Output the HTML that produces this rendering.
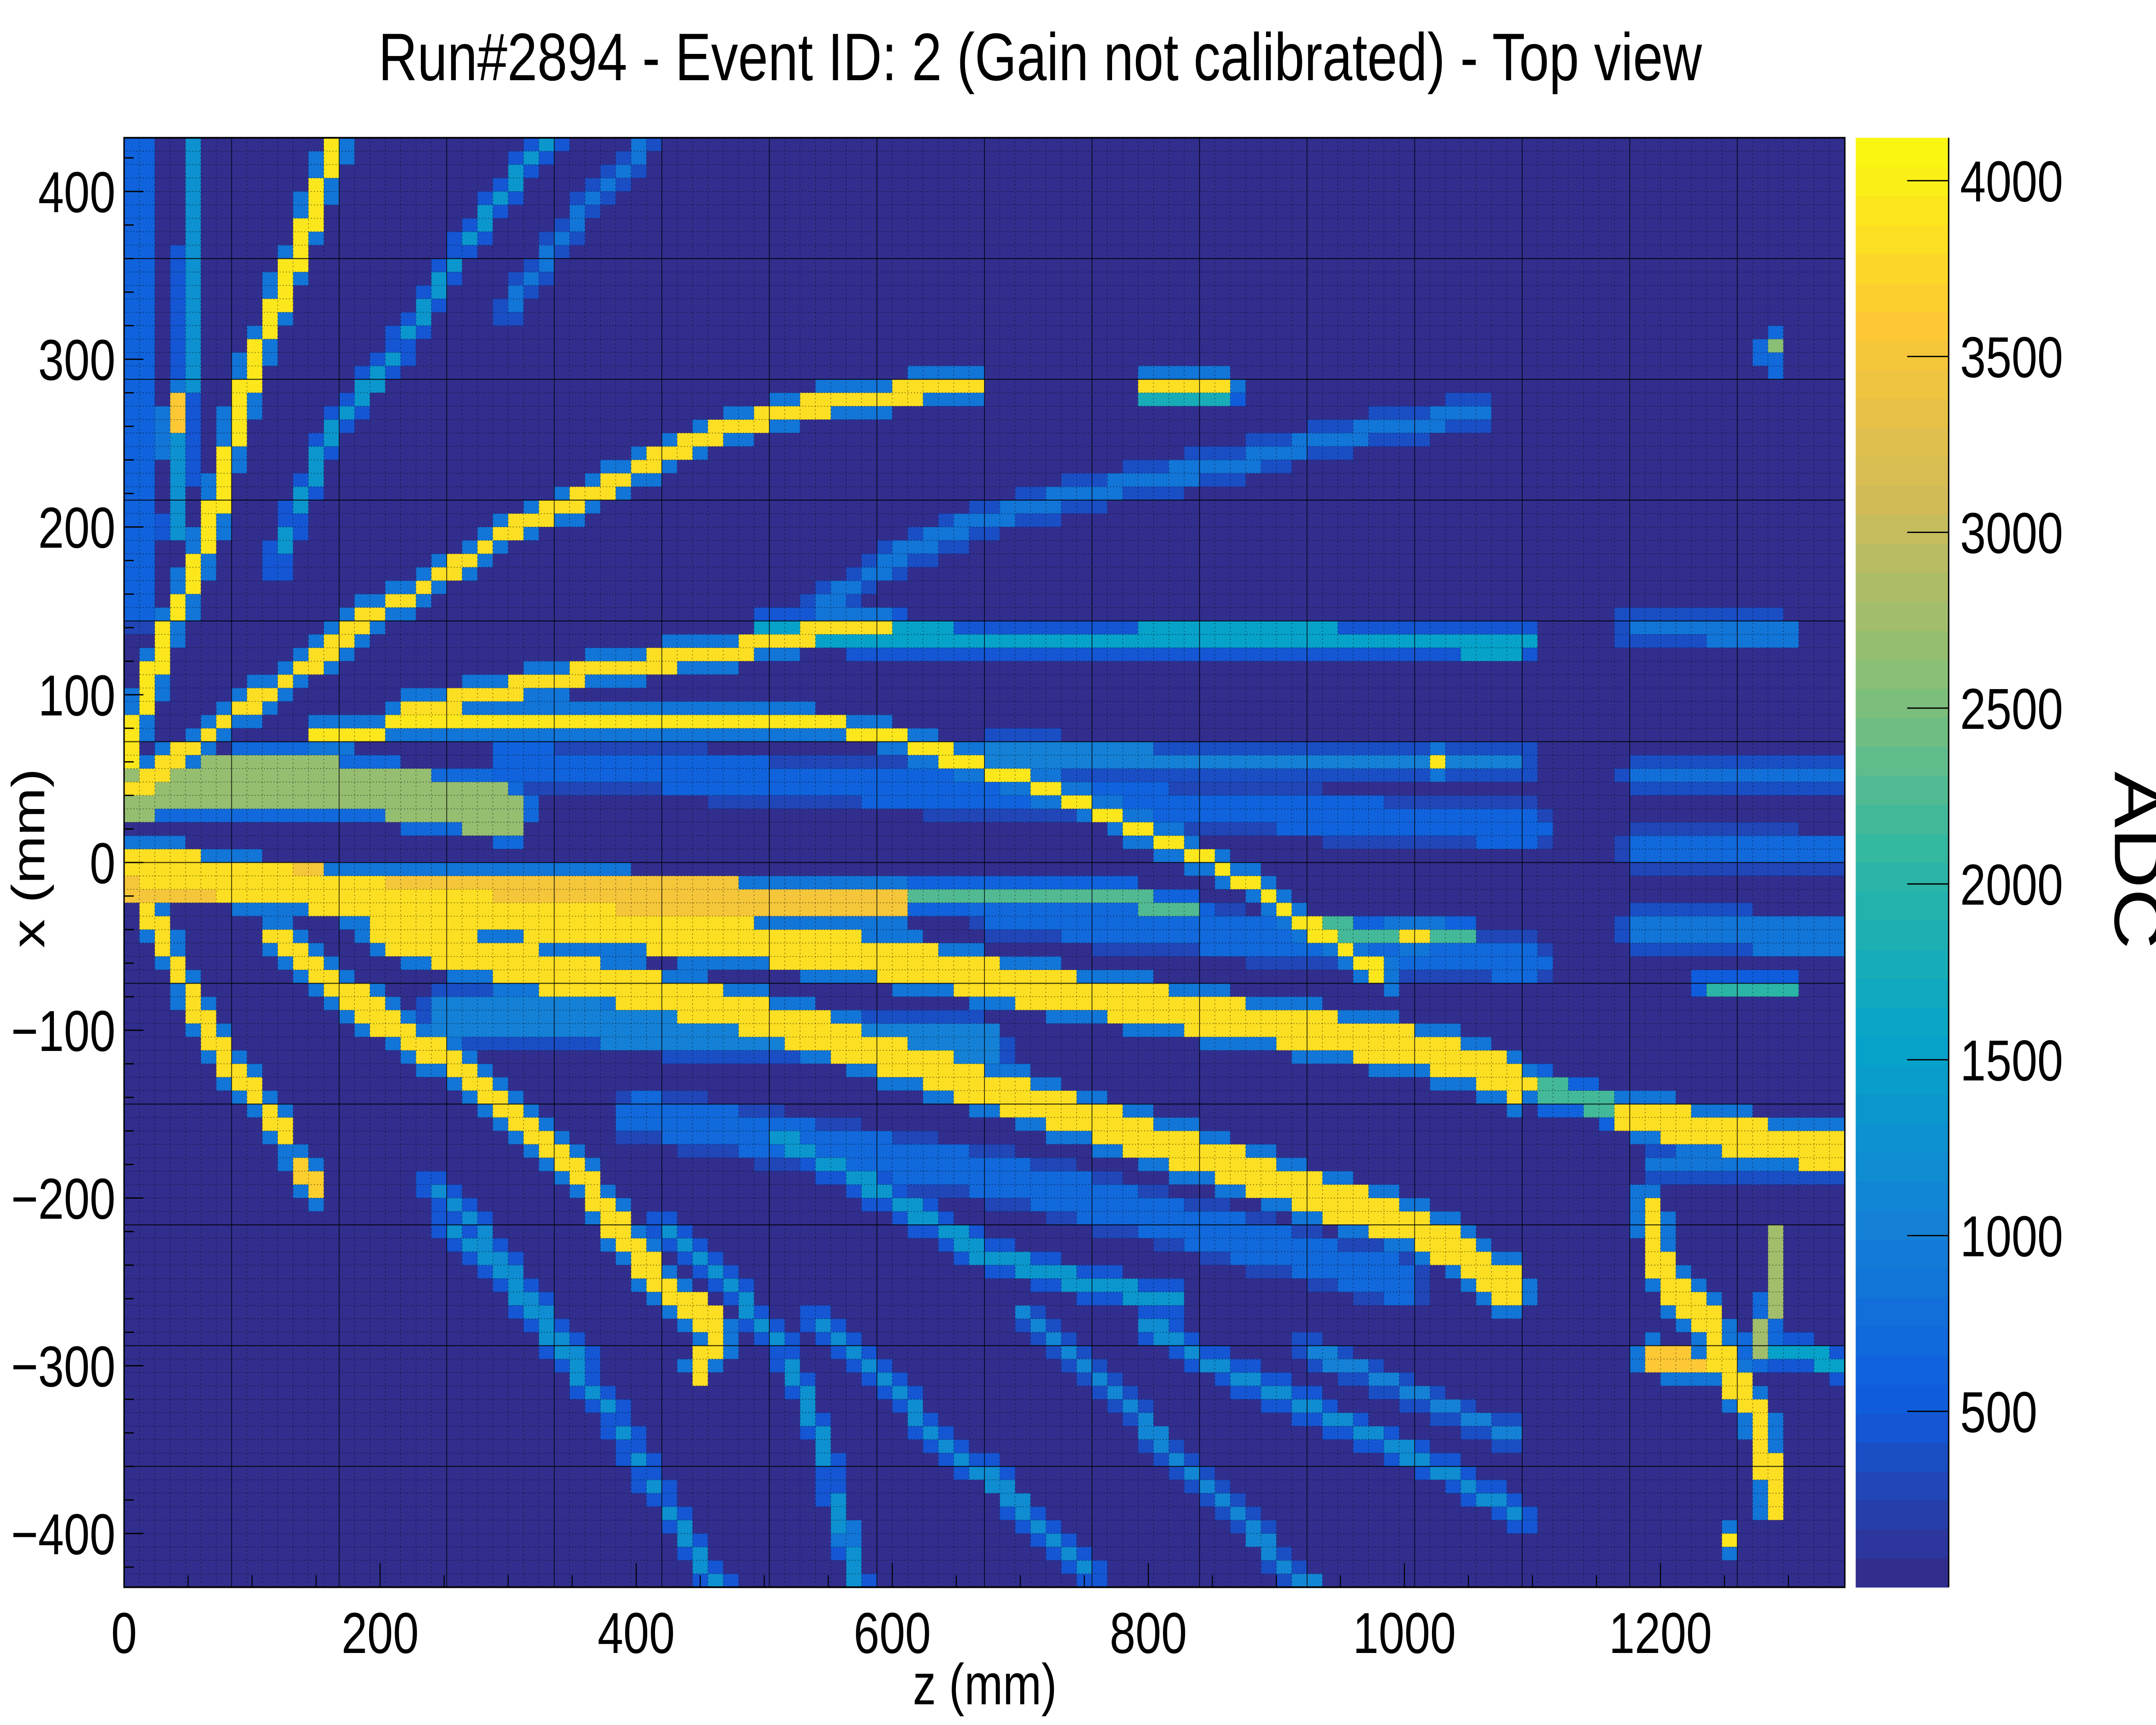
<!DOCTYPE html>
<html><head><meta charset="utf-8"><title>Run#2894 Event 2 Top view</title>
<style>
html,body{margin:0;padding:0;background:#fff;overflow:hidden;width:100%;height:100%;}
svg{display:block;font-family:"Liberation Sans",sans-serif;width:100vw;height:100vh;}
</style></head>
<body>
<svg id="chart" viewBox="0 0 6239 4000" preserveAspectRatio="none" xmlns="http://www.w3.org/2000/svg">
<rect x="0" y="0" width="6239" height="4000" fill="#ffffff"/>
<text x="3010" y="186" font-size="156" text-anchor="middle">Run#2894 - Event ID: 2 (Gain not calibrated) - Top view</text>
<g id="cells"></g>
<g id="grid"></g>
<g id="axes"></g>
<g id="cbar"></g>
<text x="2850" y="3952" font-size="134" text-anchor="middle">z (mm)</text>
<text x="0" y="0" font-size="134" text-anchor="middle" transform="translate(128,1990) rotate(-90)">x (mm)</text>
<text x="0" y="0" font-size="195" text-anchor="middle" transform="translate(6120,1995) rotate(90)">ADC</text>
</svg>
<script>
// ---- data ----
const zBinEdges = [0, 1344];
const xBinEdges = [-432, 432];
const zBinWidth = 12;
const xBinWidth = 8;
const adcRange = [0, 4122];
const zTicks = [0, 200, 400, 600, 800, 1000, 1200];
const zTickLabels = ["0", "200", "400", "600", "800", "1000", "1200"];
const xTicks = [400, 300, 200, 100, 0, -100, -200, -300, -400];
const xTickLabels = ["400", "300", "200", "100", "0", "\u2212100", "\u2212200", "\u2212300", "\u2212400"];
const adcTicks = [500, 1000, 1500, 2000, 2500, 3000, 3500, 4000];
const adcTickLabels = ["500", "1000", "1500", "2000", "2500", "3000", "3500", "4000"];
const backgroundADC = 40;

const trackPaths = [
 [[0,55],[13,89],[34,139],[52,167],[69,203],[82,242],[93,276],[101,298],[114,320],[127,348],[138,368],[151,396],[168,432]],
 [[35,250],[42,275]],
 [[40,200],[48,260],[52,330],[55,432]],
 [[10,45],[40,62],[80,85],[120,105],[159,125],[181,142],[198,150],[224,159],[241,170],[271,181],[293,195],[314,203],[344,212],[366,220],[400,234],[422,242],[452,253],[486,262],[538,272],[603,280],[663,284]],
 [[215,88],[280,100],[336,110],[400,118],[470,126],[545,138],[590,138]],
 [[150,75],[250,85],[336,86],[504,86],[585,78],[690,52],[730,42],[770,28],[810,14],[850,0],[890,-18],[925,-38],[960,-55],[985,-68]],
 [[540,150],[611,185],[672,205],[752,220],[860,237],[960,255],[1062,270]],
 [[795,287],[862,287]],
 [[795,279],[862,279]],
 [[500,140],[675,132],[900,134],[1092,130]],
 [[1178,140],[1298,136]],
 [[675,66],[800,62],[1092,58]],
 [[1024,60],[1026,60]],
 [[1180,52],[1340,50]],
 [[0,0],[100,-12],[250,-28],[400,-40],[500,-48],[600,-58],[675,-70],[756,-80],[838,-90],[924,-100],[1000,-110],[1053,-120],[1088,-132]],
 [[1088,-132],[1178,-148]],
 [[1178,-150],[1240,-160],[1307,-170],[1345,-172]],
 [[200,-40],[300,-60],[422,-80],[473,-88],[560,-106],[675,-135],[760,-155],[840,-175],[915,-195],[1000,-215],[1050,-235],[1085,-255]],
 [[0,40],[80,48],[150,48],[220,40],[300,30]],
 [[0,-10],[200,-15],[400,-20],[600,-25]],
 [[120,-45],[168,-75],[215,-100],[258,-120],[301,-151],[353,-181],[379,-212],[413,-246],[456,-273],[465,-285],[450,-300]],
 [[20,-30],[47,-72],[77,-117],[100,-135],[125,-162]],
 [[135,-180],[150,-195]],
 [[930,-40],[1050,-45]],
 [[995,-42],[1020,-42]],
 [[600,-18],[756,-20],[838,-28]],
 [[1190,-205],[1200,-240],[1210,-255],[1240,-275],[1250,-300],[1275,-330],[1285,-360],[1288,-382]],
 [[1190,-295],[1250,-300]],
 [[1290,-225],[1290,-260],[1275,-290]],
 [[1252,-403],[1254,-403]],
 [[254,-218],[301,-251],[344,-293],[387,-335],[413,-371],[452,-418],[465,-432]],
 [[422,-218],[473,-251],[517,-293],[540,-335],[560,-390],[575,-432]],
 [[563,-402],[565,-402]],
 [[504,-160],[600,-200],[672,-234],[750,-250],[820,-262]],
 [[540,-270],[594,-307],[646,-352],[675,-365],[757,-424]],
 [[700,-270],[760,-307],[830,-360],[915,-424],[930,-432]],
 [[800,-275],[855,-301],[924,-324],[1032,-363],[1092,-390]],
 [[924,-290],[1088,-343]],
 [[240,-190],[275,-215],[336,-279],[360,-300]],
 [[120,180],[164,262],[202,292],[267,368],[293,396],[335,432]],
 [[300,330],[350,380],[410,432]],
 [[12,150],[12,432]],
 [[1180,-40],[1340,-45]],
 [[1237,-72],[1300,-74]],
 [[1180,10],[1340,5]],
 [[1200,-180],[1340,-180]],
 [[1290,-290],[1345,-300]],
 [[1286,301],[1286,309]],
 [[400,-150],[700,-190],[1000,-250]],
 [[300,60],[700,40],[1100,20]],
 [[675,-30],[1100,-60]],
 [[250,-90],[675,-110]]
];
const trackADC = [3900,3600,1300,3800,3800,3900,900,3800,1800,1500,900,1000,3900,800,3800,2200,3800,3800,2700,3500,3800,3800,3700,2200,3800,2300,3800,3600,2800,3900,1300,1300,3800,1400,1200,1100,1200,1000,1200,1400,900,600,900,2000,700,900,1500,2600,700,600,700,1000];
const trackHalfWidth = [6,5,5,5,5,4,5,3,3,7,6,6,4,6,11,6,10,11,14,10,8,6,6,5,4,5,8,6,5,4,4,4,4,5,4,4,4,4,4,4,4,10,9,4,8,6,5,4,12,10,10,12];

// ---- axis functions ----
const plotLeft = 359, plotRight = 5338.5, plotTop = 319.5, plotBottom = 3680.5;
function sx(z){ return plotLeft + (z - zBinEdges[0]) / (zBinEdges[1] - zBinEdges[0]) * (plotRight - plotLeft); }
function sy(x){ return plotBottom - (x - xBinEdges[0]) / (xBinEdges[1] - xBinEdges[0]) * (plotBottom - plotTop); }
const cbLeft = 5370, cbRight = 5639;
function sc(v){ return plotBottom - (v - adcRange[0]) / (adcRange[1] - adcRange[0]) * (plotBottom - plotTop); }

const birdR=[0.2082,0.0592,0.0780,0.0232,0.1802,0.5301,0.8186,0.9956,0.9764];
const birdG=[0.1664,0.3599,0.5041,0.6419,0.7178,0.7492,0.7328,0.7862,0.9832];
const birdB=[0.5293,0.8684,0.8385,0.7914,0.6425,0.4662,0.3499,0.1968,0.0539];
const nLevels = 50;
function bird(t){
  t=Math.max(0,Math.min(1,t)); const f=t*8; let i=Math.floor(f); if(i>=8)i=7; const u=f-i;
  const r=birdR[i]+(birdR[i+1]-birdR[i])*u, g=birdG[i]+(birdG[i+1]-birdG[i])*u, b=birdB[i]+(birdB[i+1]-birdB[i])*u;
  return 'rgb('+Math.round(r*255)+','+Math.round(g*255)+','+Math.round(b*255)+')';
}
function levelColor(v){
  let l=Math.floor((v-adcRange[0])/(adcRange[1]-adcRange[0])*nLevels); if(l<0)l=0; if(l>=nLevels)l=nLevels-1;
  return bird((l+0.5)/nLevels);
}
function segDist(pz,px,a,b){
  const dz=b[0]-a[0], dx=b[1]-a[1]; const L=dz*dz+dx*dx;
  let t= L>0 ? ((pz-a[0])*dz+(px-a[1])*dx)/L : 0; t=Math.max(0,Math.min(1,t));
  const qz=a[0]+t*dz-pz, qx=a[1]+t*dx-px; return Math.sqrt(qz*qz+qx*qx);
}
const NS='http://www.w3.org/2000/svg';
function mk(tag,attrs){ const e=document.createElementNS(NS,tag); for(const k in attrs) e.setAttribute(k,attrs[k]); return e; }

// ---- cells ----
const cellG=document.getElementById('cells');
const nz=Math.round((zBinEdges[1]-zBinEdges[0])/zBinWidth), nx=Math.round((xBinEdges[1]-xBinEdges[0])/xBinWidth);
for(let i=0;i<nz;i++){
  for(let j=0;j<nx;j++){
    const z0=zBinEdges[0]+i*zBinWidth, x1=xBinEdges[1]-j*xBinWidth;
    const zc=z0+zBinWidth/2, xc=x1-xBinWidth/2;
    let v=backgroundADC;
    for(let k=0;k<trackPaths.length;k++){
      const p=trackPaths[k]; let d=1e9;
      for(let s=0;s<p.length-1;s++){ const dd=segDist(zc,xc,p[s],p[s+1]); if(dd<d)d=dd; }
      const hw=trackHalfWidth[k];
      if(d<=hw){ if(trackADC[k]>v)v=trackADC[k]; }
      else if(d<=hw+6){ const hv=Math.min(900,trackADC[k]*0.18+200); if(hv>v)v=hv; }
    }
    const r=mk('rect',{x:sx(z0).toFixed(1),y:sy(x1).toFixed(1),width:(sx(z0+zBinWidth)-sx(z0)+0.6).toFixed(1),height:(sy(x1-xBinWidth)-sy(x1)+0.6).toFixed(1),fill:levelColor(v)});
    
    
    cellG.appendChild(r);
  }
}

// ---- grid ----
const gridG=document.getElementById('grid');
for(let i=1;i<nz;i++){
  const z=zBinEdges[0]+i*zBinWidth; const solid=(i%7===0);
  const l=mk('line',{x1:sx(z),x2:sx(z),y1:plotTop,y2:plotBottom,stroke:'#000','stroke-width':solid?2.5:2,'stroke-dasharray':solid?'none':'3,6','stroke-opacity':solid?0.75:0.5});
  
  
  gridG.appendChild(l);
}
for(let j=1;j<nx;j++){
  const x=xBinEdges[1]-j*xBinWidth; const solid=(j%9===0);
  const l=mk('line',{x1:plotLeft,x2:plotRight,y1:sy(x),y2:sy(x),stroke:'#000','stroke-width':solid?2.5:2,'stroke-dasharray':solid?'none':'3,6','stroke-opacity':solid?0.75:0.5});
  
  
  gridG.appendChild(l);
}

// ---- axes ----
const axG=document.getElementById('axes');
const frame=mk('rect',{x:plotLeft,y:plotTop,width:plotRight-plotLeft,height:plotBottom-plotTop,fill:'none',stroke:'#000','stroke-width':4});


axG.appendChild(frame);
for(let z=0;z<=zBinEdges[1];z+=50){
  const major=(z%200===0);
  const t=mk('line',{x1:sx(z),x2:sx(z),y1:plotBottom,y2:plotBottom-(major?56:28),stroke:'#000','stroke-width':3});
  
  
  axG.appendChild(t);
}
for(let k=0;k<zTicks.length;k++){
  const t=mk('text',{x:sx(zTicks[k]),y:3833,'font-size':134,'text-anchor':'middle'});
  t.textContent=zTickLabels[k];
  
  
  axG.appendChild(t);
}
for(let x=-420;x<=420;x+=20){
  const major=(x%100===0);
  const t=mk('line',{x1:plotLeft,x2:plotLeft+(major?56:28),y1:sy(x),y2:sy(x),stroke:'#000','stroke-width':3});
  
  
  axG.appendChild(t);
}
for(let k=0;k<xTicks.length;k++){
  const t=mk('text',{x:334,y:sy(xTicks[k])+48,'font-size':134,'text-anchor':'end'});
  t.textContent=xTickLabels[k];
  
  
  axG.appendChild(t);
}

// ---- colour bar ----
const cbG=document.getElementById('cbar');
for(let l=0;l<nLevels;l++){
  const v0=adcRange[0]+l*(adcRange[1]-adcRange[0])/nLevels, v1=adcRange[0]+(l+1)*(adcRange[1]-adcRange[0])/nLevels;
  const r=mk('rect',{x:cbLeft,y:sc(v1),width:cbRight-cbLeft,height:sc(v0)-sc(v1)+0.8,fill:bird((l+0.5)/nLevels)});
  
  
  cbG.appendChild(r);
}
const cbAxis=mk('line',{x1:cbRight,x2:cbRight,y1:plotTop,y2:plotBottom,stroke:'#000','stroke-width':4});


cbG.appendChild(cbAxis);
for(let k=0;k<adcTicks.length;k++){
  const t=mk('line',{x1:cbRight,x2:cbRight-120,y1:sc(adcTicks[k]),y2:sc(adcTicks[k]),stroke:'#000','stroke-width':3});
  
  
  cbG.appendChild(t);
  const s=mk('text',{x:5672,y:sc(adcTicks[k])+48,'font-size':134,'text-anchor':'start'});
  s.textContent=adcTickLabels[k];
  
  
  cbG.appendChild(s);
}
</script>
</body></html>
